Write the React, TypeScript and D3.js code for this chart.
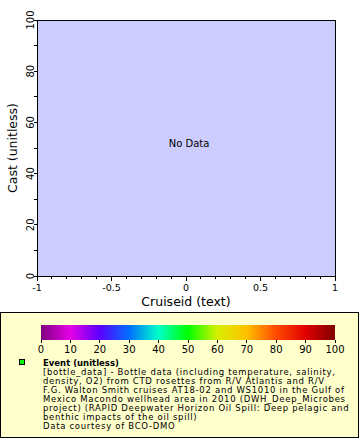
import { useEffect, useRef } from "react";
import * as d3 from "d3";

// axis domains (no data in this plot)
const xDomain = [-1, 1];
const yDomain = [0, 100];
const xMajorTicks = [-1, -0.5, 0, 0.5, 1];
const yMajorTicks = [0, 20, 40, 60, 80, 100];

// colour bar
const cbarStops = [0, 10, 20, 30, 40, 50, 60, 70, 80, 90, 100];
const cbarColors = [
	"#800080", "#e600e6", "#5a00ff", "#0070ff", "#00ffc8", "#00ff00",
	"#d8f000", "#ffc000", "#ff4a00", "#e00000", "#800000",
];

const legendTitle = "Event (unitless)";
const legendLines = [
	"[bottle_data] - Bottle data (including temperature, salinity,",
	"density, O2) from CTD rosettes from R/V Atlantis and R/V",
	"F.G. Walton Smith cruises AT18-02 and WS1010 in the Gulf of",
	"Mexico Macondo wellhead area in 2010 (DWH_Deep_Microbes",
	"project) (RAPID Deepwater Horizon Oil Spill: Deep pelagic and",
	"benthic impacts of the oil spill)",
	"Data courtesy of BCO-DMO",
];

const W = 360;
const H = 440;
const plot = { left: 37, right: 335, top: 20, bottom: 276 };
const font = "DejaVu Sans, sans-serif";

export default function App() {
	const ref = useRef<SVGSVGElement>(null);

	useEffect(() => {
		const svg = d3.select(ref.current);
		svg.selectAll("*").remove();

		const x = d3.scaleLinear().domain(xDomain).range([plot.left, plot.right]);
		const y = d3.scaleLinear().domain(yDomain).range([plot.bottom, plot.top]);

		// plot background + frame
		svg
			.append("rect")
			.attr("x", plot.left)
			.attr("y", plot.top)
			.attr("width", plot.right - plot.left)
			.attr("height", plot.bottom - plot.top)
			.attr("fill", "#ccccff")
			.attr("stroke", "#000")
			.attr("stroke-width", 1)
			.attr("shape-rendering", "crispEdges");

		// x axis: minor + major ticks
		const gx = svg.append("g").attr("shape-rendering", "crispEdges");
		gx.selectAll("line.minor")
			.data(d3.range(-10, 11).map((d) => d / 10))
			.join("line")
			.attr("x1", (d) => x(d))
			.attr("x2", (d) => x(d))
			.attr("y1", plot.bottom)
			.attr("y2", plot.bottom + 3)
			.attr("stroke", "#000");
		gx.selectAll("line.major")
			.data(xMajorTicks)
			.join("line")
			.attr("x1", (d) => x(d))
			.attr("x2", (d) => x(d))
			.attr("y1", plot.bottom)
			.attr("y2", plot.bottom + 5)
			.attr("stroke", "#000");
		svg
			.append("g")
			.selectAll("text")
			.data(xMajorTicks)
			.join("text")
			.attr("x", (d) => x(d))
			.attr("y", 291)
			.attr("text-anchor", "middle")
			.attr("font-family", font)
			.attr("font-size", 9.5)
			.text((d) => String(d));

		// y axis
		const gy = svg.append("g").attr("shape-rendering", "crispEdges");
		gy.selectAll("line")
			.data(d3.range(0, 101, 10))
			.join("line")
			.attr("x1", plot.left - 3)
			.attr("x2", plot.left)
			.attr("y1", (d) => y(d))
			.attr("y2", (d) => y(d))
			.attr("stroke", "#000");
		svg
			.append("g")
			.selectAll("text")
			.data(yMajorTicks)
			.join("text")
			.attr("transform", (d) => `translate(33.5,${y(d)}) rotate(-90)`)
			.attr("text-anchor", "middle")
			.attr("font-family", font)
			.attr("font-size", 10)
			.text((d) => d);

		// axis titles
		svg
			.append("text")
			.attr("x", (plot.left + plot.right) / 2)
			.attr("y", 306)
			.attr("text-anchor", "middle")
			.attr("font-family", font)
			.attr("font-size", 12.5)
			.text("Cruiseid (text)");
		svg
			.append("text")
			.attr("transform", `translate(17,${(plot.top + plot.bottom) / 2}) rotate(-90)`)
			.attr("text-anchor", "middle")
			.attr("font-family", font)
			.attr("font-size", 12.5)
			.text("Cast (unitless)");

		svg
			.append("text")
			.attr("x", (plot.left + plot.right) / 2 + 3)
			.attr("y", 147)
			.attr("text-anchor", "middle")
			.attr("font-family", font)
			.attr("font-size", 10)
			.text("No Data");

		// legend box
		svg
			.append("rect")
			.attr("x", 0.5)
			.attr("y", 312.5)
			.attr("width", 358)
			.attr("height", 125)
			.attr("fill", "#ffffcc")
			.attr("stroke", "#000")
			.attr("stroke-width", 1);

		// colour bar
		const cx = d3.scaleLinear().domain([0, 100]).range([41, 335]);
		const grad = svg
			.append("defs")
			.append("linearGradient")
			.attr("id", "cbar")
			.attr("x1", "0%")
			.attr("x2", "100%");
		grad
			.selectAll("stop")
			.data(cbarStops)
			.join("stop")
			.attr("offset", (d) => `${d}%`)
			.attr("stop-color", (d, i) => cbarColors[i]);
		svg
			.append("rect")
			.attr("x", cx(0))
			.attr("y", 325)
			.attr("width", cx(100) - cx(0))
			.attr("height", 15)
			.attr("fill", "url(#cbar)");
		svg
			.append("g")
			.attr("shape-rendering", "crispEdges")
			.selectAll("line")
			.data(cbarStops)
			.join("line")
			.attr("x1", (d) => cx(d))
			.attr("x2", (d) => cx(d))
			.attr("y1", 340)
			.attr("y2", 343)
			.attr("stroke", "#000");
		svg
			.append("g")
			.selectAll("text")
			.data(cbarStops)
			.join("text")
			.attr("x", (d) => cx(d))
			.attr("y", 352.5)
			.attr("text-anchor", "middle")
			.attr("font-family", font)
			.attr("font-size", 10)
			.text((d) => d);

		// legend marker + text
		svg
			.append("rect")
			.attr("x", 19.5)
			.attr("y", 359.5)
			.attr("width", 5)
			.attr("height", 5)
			.attr("fill", "#00ff00")
			.attr("stroke", "#000");
		svg
			.append("text")
			.attr("x", 43)
			.attr("y", 366)
			.attr("font-family", font)
			.attr("font-size", 8.5)
			.attr("font-weight", "bold")
			.text(legendTitle);
		svg
			.append("g")
			.selectAll("text")
			.data(legendLines)
			.join("text")
			.attr("x", 43)
			.attr("y", (d, i) => 375 + i * 9)
			.attr("font-family", font)
			.attr("font-size", 8.5)
			.attr("letter-spacing", 0.7)
			.text((d) => d);
	}, []);

	return (
		<svg
			ref={ref}
			width={W}
			height={H}
			style={{ position: "absolute", left: 0, top: 0, background: "#fff" }}
		/>
	);
}
